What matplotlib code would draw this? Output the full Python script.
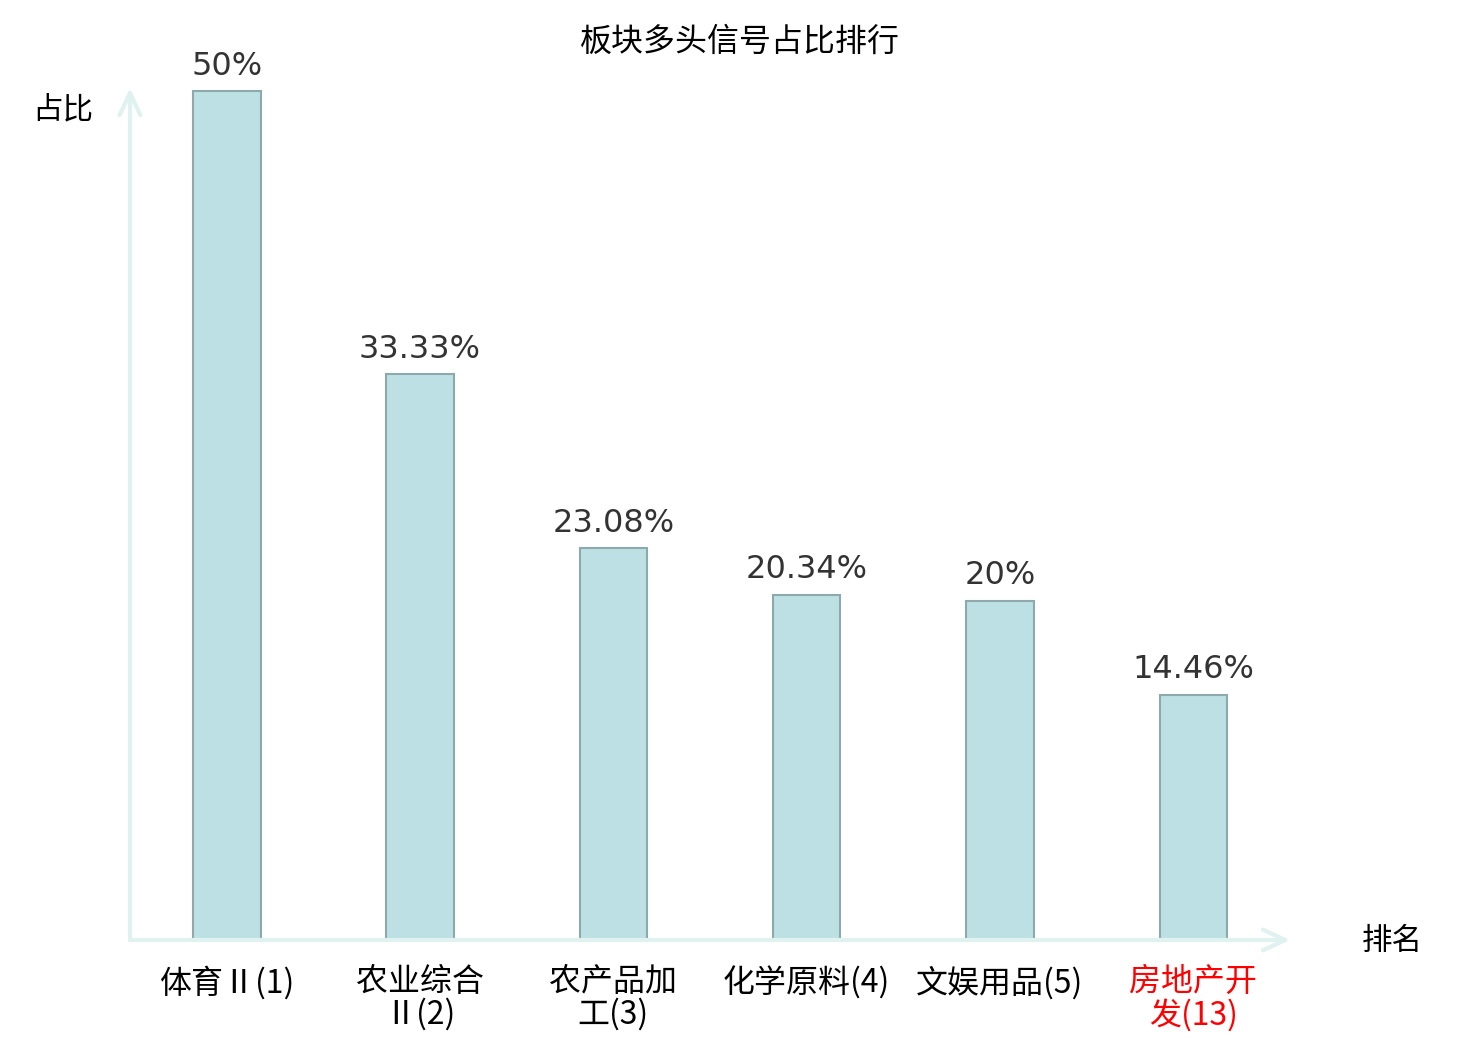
import matplotlib
matplotlib.use("Agg")
import matplotlib.pyplot as plt

plt.rcParams['font.family'] = ['Noto Sans CJK SC', 'DejaVu Sans']

sectors = ["体育Ⅱ(1)", "农业综合\nⅡ(2)", "农产品加\n工(3)", "化学原料(4)", "文娱用品(5)", "房地产开\n发(13)"]
ratios = [50, 33.33, 23.08, 20.34, 20, 14.46]
value_labels = ["50%", "33.33%", "23.08%", "20.34%", "20%", "14.46%"]
label_colors = ["black", "black", "black", "black", "black", "red"]

axis_color = "#dff2ef"

fig = plt.figure(figsize=(14.8, 10.4), dpi=100)
ax = fig.add_axes([130 / 1480, 100 / 1040, 1160 / 1480, 852 / 1040])

x = list(range(len(sectors)))
bars = ax.bar(x, ratios, width=0.35, color="#bce0e3", edgecolor="#8ea9ab", linewidth=1.5, zorder=3)

for b, txt in zip(bars, value_labels):
    ax.annotate(txt, (b.get_x() + b.get_width() / 2, b.get_height()),
                xytext=(0, 7), textcoords="offset points",
                ha="center", va="bottom", fontsize=23, color="#333333",
                family="DejaVu Sans")

ax.set_xlim(-0.5, 5.5)
ax.set_ylim(0, 50.2)
for s in ax.spines.values():
    s.set_visible(False)
ax.set_yticks([])
ax.set_xticks(x)
ax.set_xticklabels(sectors, fontsize=23, linespacing=1.0)
ax.tick_params(axis="x", length=0, pad=19)
for lbl, c in zip(ax.get_xticklabels(), label_colors):
    lbl.set_color(c)

# axis arrows
arrow_style = "->,head_length=1.6,head_width=0.75"
ax.annotate("", xy=(1.0, 0), xytext=(0, 0), xycoords="axes fraction",
            arrowprops=dict(arrowstyle=arrow_style, color=axis_color, lw=3,
                            shrinkA=0, shrinkB=0),
            annotation_clip=False)
ax.annotate("", xy=(0, 1.0), xytext=(0, 0), xycoords="axes fraction",
            arrowprops=dict(arrowstyle=arrow_style, color=axis_color, lw=3,
                            shrinkA=0, shrinkB=0),
            annotation_clip=False)

fig.text(740 / 1480, 1 - 42 / 1040, "板块多头信号占比排行", ha="center", va="center", fontsize=23)
fig.text(63 / 1480, 1 - 110 / 1040, "占比", ha="center", va="center", fontsize=22)
fig.text(1392 / 1480, 1 - 941 / 1040, "排名", ha="center", va="center", fontsize=22)

fig.savefig("out.png", dpi=100)
